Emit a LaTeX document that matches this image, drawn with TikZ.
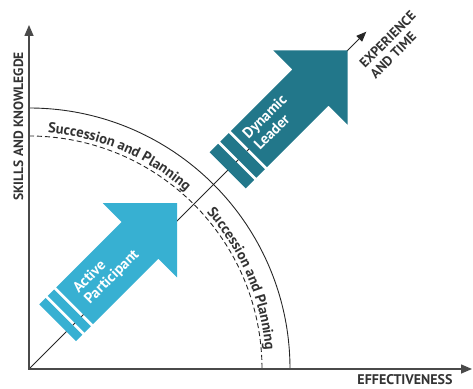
\documentclass[tikz,border=0pt]{standalone}
\usepackage{fontspec}
\setmainfont{PT Sans}
\usetikzlibrary{arrows.meta,decorations.text,calc}
\definecolor{cyanA}{HTML}{37B0D2}
\definecolor{tealD}{HTML}{22778A}
\definecolor{axisgray}{HTML}{4A4A4A}
\definecolor{txtgray}{HTML}{333333}
\tikzset{
  axisline/.style={line width=1.5pt, draw=axisgray},
  arcline/.style={line width=0.9pt, draw=black!85},
  axislabel/.style={font=\bfseries\fontsize{14}{14}\selectfont, text=txtgray, inner sep=0pt},
  arrowtext/.style={font=\bfseries\fontsize{15}{16}\selectfont, text=white, align=left, anchor=west, rotate=45},
}
\begin{document}
\begin{tikzpicture}[x=1pt,y=1pt]
\useasboundingbox (0,0) rectangle (473,388);
\coordinate (O) at (29,19);
\coordinate (ytip) at (29,363);
\coordinate (xtip) at (472,19);
\coordinate (dtip) at ($(O)+(45:477)$);
% arcs
\draw[arcline] ($(O)+(90:261)$) arc[start angle=90,end angle=0,radius=261];
\draw[arcline, dash pattern=on 5pt off 3pt] ($(O)+(90:233)$) arc[start angle=90,end angle=0,radius=233];
% arc texts
\path[decorate, decoration={text along path, text align=center,
  text={|\bfseries\fontsize{14.5}{14.5}\selectfont\color{txtgray}|Succession and Planning}}]
  ($(O)+(88:237)$) arc[start angle=88,end angle=46,radius=237];
\path[decorate, decoration={text along path, text align=center,
  text={|\bfseries\fontsize{14.5}{14.5}\selectfont\color{txtgray}|Succession and Planning}}]
  ($(O)+(44:237)$) arc[start angle=44,end angle=2,radius=237];
% diagonal
\draw[line width=0.9pt, draw=black!85, -{Triangle[length=10pt,width=8pt]}] (O) -- (dtip);
% axes
\draw[axisline, {Triangle[length=11pt,width=9pt]}-{Triangle[length=11pt,width=9pt]}] (ytip) -- (O) -- (xtip);
% arrows
\begin{scope}[shift={(O)}, rotate=45]
  \fill[cyanA] (77,-13.5) -- (169.5,-13.5) -- (169.5,-40) -- (222,12.5) -- (169.5,65) -- (169.5,38.5) -- (77,38.5) -- cycle;
  \fill[cyanA] (65,-13.5) rectangle (74,38.5);
  \fill[cyanA] (53,-13.5) rectangle (62,38.5);
  \node[arrowtext] (ap) at (85,14) {Active\\Participant};
  \fill[tealD] (311,-25.5) -- (398,-25.5) -- (398,-52.5) -- (450.5,0) -- (398,52.5) -- (398,25.5) -- (311,25.5) -- cycle;
  \fill[tealD] (296,-25.5) rectangle (308,25.5);
  \fill[tealD] (281,-25.5) rectangle (293,25.5);
  \node[arrowtext] (dl) at (314,4) {Dynamic\\Leader};
  \node[axislabel, align=left, anchor=west, rotate=45, font=\bfseries\fontsize{13.5}{15}\selectfont] (et) at (450,-28) {EXPERIENCE\\AND TIME};
\end{scope}
% axis labels
\node[axislabel, rotate=90, font=\bfseries\fontsize{13.5}{13.5}\selectfont] (ylab) at (18.5,261.5) {SKILLS AND KNOWLEGDE};
\node[axislabel] (xlab) at (405,8) {EFFECTIVENESS};
\end{tikzpicture}
\end{document}
